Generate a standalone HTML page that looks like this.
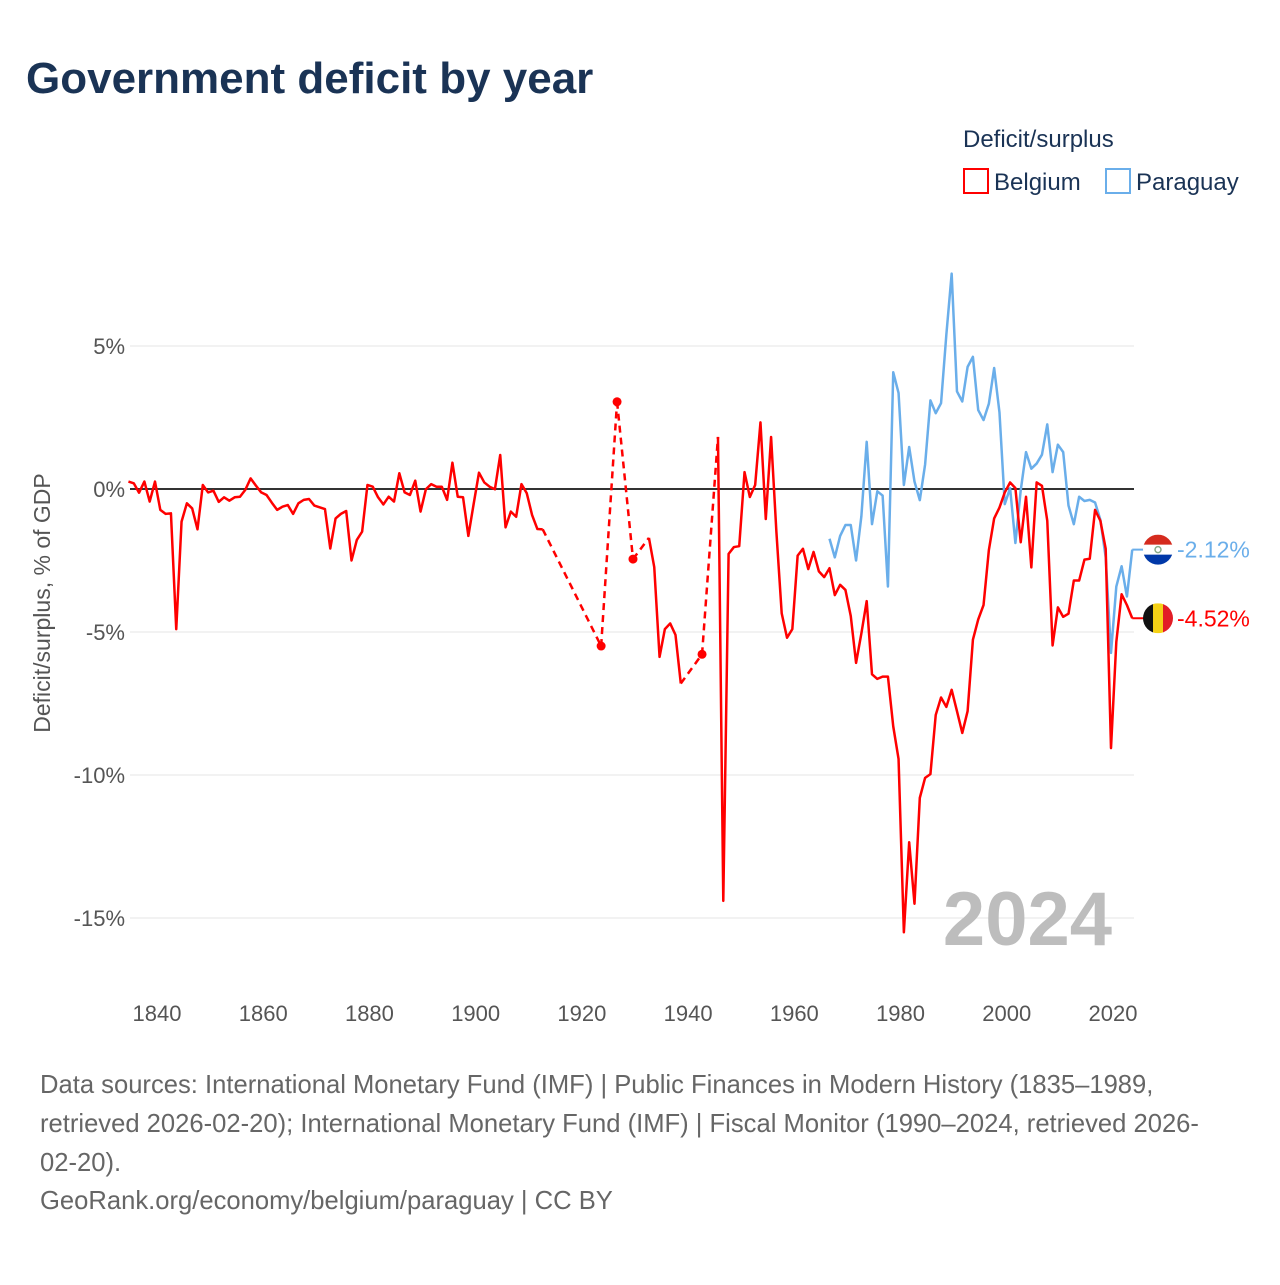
<!DOCTYPE html>
<html><head><meta charset="utf-8"><style>
body{margin:0;background:#fff;width:1280px;height:1280px;overflow:hidden;font-family:"Liberation Sans",sans-serif}
</style></head><body>
<svg width="1280" height="1280" xmlns="http://www.w3.org/2000/svg" style="font-family:'Liberation Sans',sans-serif">
<text x="26" y="93" font-size="44" font-weight="bold" fill="#1a3355">Government deficit by year</text>
<text x="963" y="147" font-size="24" fill="#1a3355">Deficit/surplus</text>
<g><rect x="964" y="169" width="24" height="24" fill="none" stroke="#f00" stroke-width="2"/><text x="994" y="190" font-size="24" fill="#1a3355">Belgium</text></g>
<g><rect x="1106" y="169" width="24" height="24" fill="none" stroke="#6aaeea" stroke-width="2"/><text x="1136" y="190" font-size="24" fill="#1a3355">Paraguay</text></g>
<g id="grid"></g><g id="xaxis"></g><g id="plot"></g>
<text x="1112" y="945" text-anchor="end" font-size="76" font-weight="bold" fill="#bdbdbd">2024</text>
<text transform="translate(50,603) rotate(-90)" text-anchor="middle" font-size="23" fill="#555">Deficit/surplus, % of GDP</text>
<g font-size="25.6" fill="#666">
<text x="40" y="1093">Data sources: International Monetary Fund (IMF) | Public Finances in Modern History (1835–1989,</text>
<text x="40" y="1132">retrieved 2026-02-20); International Monetary Fund (IMF) | Fiscal Monitor (1990–2024, retrieved 2026-</text>
<text x="40" y="1171">02-20).</text>
<text x="40" y="1209">GeoRank.org/economy/belgium/paraguay | CC BY</text>
</g>
</svg>
<script>
const yTicks=[5,0,-5,-10,-15];
const yTickLabels=["5%","0%","-5%","-10%","-15%"];
const xTicks=[1840,1860,1880,1900,1920,1940,1960,1980,2000,2020];
const belgiumStart=1835;
const belgium=[0.26,0.20,-0.13,0.26,-0.44,0.26,-0.73,-0.87,-0.85,-4.9,-1.14,-0.50,-0.68,-1.41,0.14,-0.12,-0.06,-0.45,-0.29,-0.41,-0.29,-0.27,-0.03,0.37,0.12,-0.12,-0.21,-0.48,-0.73,-0.62,-0.56,-0.87,-0.50,-0.38,-0.35,-0.58,-0.64,-0.70,-2.08,-1.03,-0.87,-0.77,-2.5,-1.78,-1.49,0.14,0.08,-0.29,-0.54,-0.27,-0.44,0.55,-0.12,-0.21,0.29,-0.79,-0.01,0.17,0.08,0.08,-0.38,0.92,-0.27,-0.29,-1.64,-0.52,0.57,0.23,0.08,-0.01,1.19,-1.34,-0.79,-0.97,0.17,-0.15,-0.91,-1.4,-1.41,
null,null,null,null,null,null,null,null,null,null,-5.49,null,null,3.05,null,null,-2.45,null,null,-1.71,-2.73,-5.87,-4.9,-4.7,-5.1,-6.8,null,null,null,-5.78,null,null,1.82,-14.4,-2.27,-2.03,-2.0,0.59,-0.28,0.14,2.33,-1.05,1.82,-1.5,-4.35,-5.2,-4.9,-2.33,-2.09,-2.8,-2.2,-2.88,-3.08,-2.77,-3.71,-3.35,-3.53,-4.44,-6.08,-5.05,-3.92,-6.48,-6.64,-6.56,-6.56,-8.3,-9.44,-15.5,-12.35,-14.5,-10.8,-10.1,-9.97,-7.9,-7.29,-7.62,-7.02,-7.77,-8.53,-7.77,-5.27,-4.56,-4.06,-2.14,-1.03,-0.65,-0.12,0.23,0.03,-1.86,-0.27,-2.74,0.23,0.11,-1.11,-5.47,-4.14,-4.47,-4.36,-3.2,-3.2,-2.47,-2.44,-0.73,-1.11,-2.09,-9.06,-5.35,-3.68,-4.06,-4.52];
const paraguayStart=1967;
const paraguay=[-1.74,-2.39,-1.64,-1.26,-1.26,-2.5,-0.95,1.65,-1.23,-0.08,-0.23,-3.41,4.08,3.36,0.14,1.47,0.26,-0.39,0.86,3.1,2.65,3.0,5.4,7.53,3.41,3.06,4.27,4.62,2.76,2.41,2.98,4.23,2.68,-0.53,0.03,-1.89,-0.05,1.29,0.71,0.89,1.2,2.26,0.59,1.55,1.29,-0.58,-1.23,-0.27,-0.42,-0.38,-0.47,-1.08,-2.39,-5.73,-3.41,-2.7,-3.76,-2.12];
const NS="http://www.w3.org/2000/svg";
const X=y=>155+(y-1840)*5.3111;
const Y=v=>489-v*28.6;
function mk(tag,attrs,parent){const e=document.createElementNS(NS,tag);for(const k in attrs)e.setAttribute(k,attrs[k]);parent.appendChild(e);return e;}
const grid=document.getElementById('grid'),xa=document.getElementById('xaxis'),plot=document.getElementById('plot');
yTicks.forEach((t,i)=>{
  if(t!==0){const l=mk('line',{x1:130,x2:1134,y1:Y(t),y2:Y(t),stroke:'#e6e6e6','stroke-width':1},grid);
  
  }
  const tx=mk('text',{x:125,y:Y(t)+8,'text-anchor':'end','font-size':22,fill:'#555'},grid);tx.textContent=yTickLabels[i];
  
  
});
xTicks.forEach(t=>{const tx=mk('text',{x:X(t)+2,y:1021,'text-anchor':'middle','font-size':22,fill:'#555'},xa);tx.textContent=t;
  
  });
function drawSeries(vals,start,color,name){
  const g=mk('g',{},plot);
  
  
  const pts=vals.map((v,i)=>v==null?null:[X(start+i),Y(v),i]).filter(p=>p);
  let solid=[],dashed=[];let run=[pts[0]];
  for(let k=1;k<pts.length;k++){
    if(pts[k][2]-pts[k-1][2]===1){run.push(pts[k]);}
    else{solid.push(run);dashed.push([pts[k-1],pts[k]]);run=[pts[k]];}
  }
  solid.push(run);
  solid.forEach(r=>{
    if(r.length===1){const c=mk('circle',{cx:r[0][0],cy:r[0][1],r:4.5,fill:color},g);
      
      }
    else{const p=mk('polyline',{points:r.map(p=>p[0]+','+p[1]).join(' '),fill:'none',stroke:color,'stroke-width':2.5,'stroke-linejoin':'round'},g);
      
      }
  });
  dashed.forEach(d=>{const l=mk('line',{x1:d[0][0],y1:d[0][1],x2:d[1][0],y2:d[1][1],stroke:color,'stroke-width':2.5,'stroke-dasharray':'7,5'},g);
    
    });
}
const zl=mk('line',{x1:130,x2:1134,y1:Y(0),y2:Y(0),stroke:'#333','stroke-width':2},plot);


drawSeries(paraguay,paraguayStart,'#6aaeea','paraguay');
drawSeries(belgium,belgiumStart,'#f00','belgium');
function endLabel(v,color,name,flag){
  const y=Y(v),g=mk('g',{},plot);
  
  
  const cx=1158,r=15;
  mk('line',{x1:X(2024),x2:cx,y1:y,y2:y,stroke:color,'stroke-width':2},g);
  const cp=mk('clipPath',{id:'c'+name},g);mk('circle',{cx:cx,cy:y,r:r},cp);
  const fg=mk('g',{'clip-path':'url(#c'+name+')'},g);
  if(flag==='be'){['#111','#f5d116','#e21d26'].forEach((c,i)=>mk('rect',{x:cx-r+i*10,y:y-r,width:10.5,height:2*r,fill:c},fg));}
  else{['#d52b1e','#fff','#0038a8'].forEach((c,i)=>mk('rect',{x:cx-r,y:y-r+i*10,width:2*r,height:10.5,fill:c},fg));
    mk('circle',{cx:cx,cy:y,r:3,fill:'none',stroke:'#8a8',"stroke-width":1.5},fg);}
  const t=mk('text',{x:1177,y:y+8,'font-size':23,fill:color},g);t.textContent=(v<0?'-':'')+Math.abs(v).toFixed(2)+'%';
}
endLabel(paraguay[paraguay.length-1],'#6aaeea','paraguay','py');
endLabel(belgium[belgium.length-1],'#f00','belgium','be');
</script>
</body></html>
